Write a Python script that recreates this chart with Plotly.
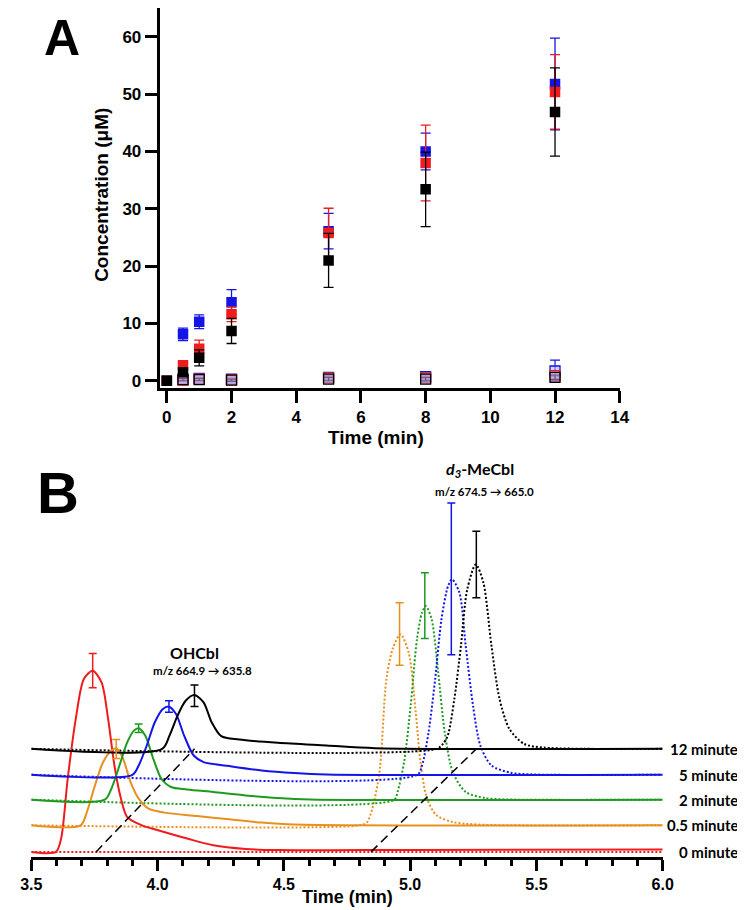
import plotly.graph_objects as go

W, H = 745, 910

def fx(px):
    return px / W

def fy(py):
    return 1 - py / H

# ---------------- Panel A data ----------------
TIME_A = [0, 0.5, 1, 2, 5, 8, 12]
BLACK_FILLED = [0, 1.5, 4.0, 8.7, 21.0, 33.4, 46.9]
BLACK_FILLED_ERR = [0, 0.5, 1.4, 2.2, 4.7, 6.5, 7.7]
RED_FILLED = [0, 2.7, 5.6, 11.6, 25.8, 38.0, 50.4]
RED_FILLED_ERR = [0, 0.5, 1.5, 1.3, 4.3, 6.6, 6.5]
BLUE_FILLED = [0, 8.1, 10.3, 13.7, 26.1, 40.0, 51.8]
BLUE_FILLED_ERR = [0, 1.1, 1.2, 2.2, 3.1, 3.2, 8.0]

TIME_OPEN = [0.5, 1, 2, 5, 8, 12]
BLACK_OPEN = [0.2, 0.2, 0.1, 0.3, 0.3, 0.6]
BLACK_OPEN_ERR = [0.2, 0.2, 0.2, 0.3, 0.3, 0.4]
RED_OPEN = [0.1, 0.3, 0.2, 0.5, 0.5, 0.9]
RED_OPEN_ERR = [0.2, 0.2, 0.2, 0.3, 0.3, 0.5]
BLUE_OPEN = [0.3, 0.4, 0.3, 0.6, 0.7, 1.7]
BLUE_OPEN_ERR = [0.2, 0.2, 0.2, 0.3, 0.3, 1.9]

# ---------------- Panel B data ----------------
# Solid traces: OHCbl channel (time, height above own baseline)
RED_SOLID_T = [3.5, 3.597, 3.618, 3.644, 3.676, 3.708, 3.743, 3.778, 3.804, 3.829, 3.855, 3.880, 3.938, 4.002, 4.117, 4.220, 4.348, 4.476, 5.0, 6.0]
RED_SOLID_H = [0, 0, 13.4, 73.4, 133.4, 173.4, 181.7, 170, 133.4, 86.7, 53.4, 35, 26.7, 21.7, 13.4, 6.7, 3.0, 1.8, 2.0, 2.5]
ORANGE_SOLID_T = [3.5, 3.695, 3.720, 3.752, 3.784, 3.817, 3.836, 3.861, 3.893, 3.925, 3.964, 4.028, 4.156, 4.284, 4.412, 4.541, 6.0]
ORANGE_SOLID_H = [0, 0, 13.3, 40, 63.3, 75, 77.3, 68.3, 43.3, 26.7, 16.7, 12.7, 9.3, 6, 2.7, 0.7, 0]
GREEN_SOLID_T = [3.5, 3.791, 3.817, 3.849, 3.880, 3.906, 3.925, 3.951, 3.983, 4.015, 4.053, 4.117, 4.220, 4.348, 4.476, 4.605, 6.0]
GREEN_SOLID_H = [0, 0, 11, 34.3, 57.7, 69.3, 71.7, 64.3, 41, 21, 12.7, 10.3, 7.7, 4.3, 1.7, 0.3, 0]
BLUE_SOLID_T = [3.5, 3.900, 3.925, 3.957, 3.989, 4.021, 4.045, 4.073, 4.105, 4.143, 4.182, 4.284, 4.412, 4.541, 4.669, 6.0]
BLUE_SOLID_H = [0, 0, 9.3, 29.3, 52.7, 66, 68.3, 61, 39.3, 19.3, 12.7, 8.7, 4.3, 1.7, 0.3, 0]
BLACK_SOLID_T = [3.5, 4.018, 4.047, 4.079, 4.111, 4.146, 4.182, 4.214, 4.252, 4.323, 4.476, 4.669, 4.861, 6.0]
BLACK_SOLID_H = [0, 0, 13.3, 33.3, 48.3, 54, 46.7, 26.7, 12.7, 9.3, 6, 3.3, 0.7, 0]

# Dotted traces: d3-MeCbl channel
RED_DOT_T = [3.5, 6.0]
RED_DOT_H = [0, 0]
ORANGE_DOT_T = [3.5, 4.80, 4.829, 4.875, 4.906, 4.932, 4.962, 4.994, 5.022, 5.041, 5.067, 5.105, 5.169, 5.272, 6.0]
ORANGE_DOT_H = [0, 0, 3, 46.7, 146.7, 178, 191.7, 173.3, 113.3, 63.3, 26.7, 10, 3.3, 0.7, 0]
GREEN_DOT_T = [3.5, 4.937, 4.950, 4.976, 5.002, 5.027, 5.047, 5.062, 5.085, 5.111, 5.137, 5.169, 5.220, 5.297, 5.374, 6.0]
GREEN_DOT_H = [0, 0, 7.7, 37.7, 94.3, 161, 187.7, 194.3, 181, 127.7, 67.7, 27.7, 7.7, 1.7, 0.3, 0]
BLUE_DOT_T = [3.5, 5.028, 5.047, 5.073, 5.099, 5.124, 5.150, 5.166, 5.195, 5.220, 5.249, 5.278, 5.322, 5.399, 5.489, 6.0]
BLUE_DOT_H = [0, 0, 9.3, 42.7, 96, 156, 189.3, 196, 182.7, 129.3, 69.3, 29.3, 9.3, 2, 0.3, 0]
BLACK_DOT_T = [3.5, 5.105, 5.130, 5.149, 5.175, 5.201, 5.226, 5.260, 5.290, 5.322, 5.354, 5.393, 5.451, 5.528, 6.0]
BLACK_DOT_H = [0, 0, 5, 13.3, 50, 103.3, 160, 185, 166.7, 103.3, 50, 20, 5, 1.3, 0]

# Error bars at peak apex (time, height, +/- error)
OH_ERR_T = [3.743, 3.836, 3.925, 4.045, 4.146]
OH_ERR_H = [181.8, 76.5, 71.6, 68.5, 53.3]
OH_ERR_E = [17.2, 9.5, 4.3, 5.8, 10.7]
ME_ERR_T = [4.958, 5.058, 5.163, 5.262]
ME_ERR_H = [192, 194.6, 196.5, 185]
ME_ERR_E = [31.3, 33, 76.2, 33.3]

# Baseline offsets of each trace (same units as heights)
SAMPLES = ["0 minute", "0.5 minute", "2 minute", "5 minute", "12 minute"]
OFFSETS = [0, 26.7, 52.4, 77.4, 103.4]

# Dashed guide lines (time, offset-level)
DASH1_T = [3.756, 4.146]
DASH1_Y = [0, 103.4]
DASH2_T = [4.845, 5.262]
DASH2_Y = [0, 103.4]

C_RED = "#ee1c1c"
C_ORANGE = "#e8901e"
C_GREEN = "#1e9a1e"
C_BLUE = "#1414e6"
C_BLACK = "#000000"

fig = go.Figure()

# ---------- Panel A traces ----------
def open_trace(y, err, col):
    return go.Scatter(
        x=TIME_OPEN, y=y, mode="markers", xaxis="x", yaxis="y",
        marker=dict(symbol="square", size=10, color="rgba(190,170,225,0.55)",
                    line=dict(color=col, width=1.3)),
        error_y=dict(type="data", array=err, color=col, thickness=1.2, width=5),
        showlegend=False, hoverinfo="skip")

fig.add_trace(open_trace(BLUE_OPEN, BLUE_OPEN_ERR, C_BLUE))
fig.add_trace(open_trace(RED_OPEN, RED_OPEN_ERR, C_RED))
fig.add_trace(open_trace(BLACK_OPEN, BLACK_OPEN_ERR, C_BLACK))

def filled_trace(y, err, col):
    return go.Scatter(
        x=TIME_A, y=y, mode="markers", xaxis="x", yaxis="y",
        marker=dict(symbol="square", size=10.5, color=col, line=dict(width=0)),
        error_y=dict(type="data", array=err, color=col, thickness=1.3, width=5),
        showlegend=False, hoverinfo="skip")

fig.add_trace(filled_trace(BLUE_FILLED, BLUE_FILLED_ERR, C_BLUE))
fig.add_trace(filled_trace(RED_FILLED, RED_FILLED_ERR, C_RED))
fig.add_trace(filled_trace(BLACK_FILLED, BLACK_FILLED_ERR, C_BLACK))

# ---------- Panel B traces ----------
dot_sets = [(RED_DOT_T, RED_DOT_H, C_RED), (ORANGE_DOT_T, ORANGE_DOT_H, C_ORANGE),
            (GREEN_DOT_T, GREEN_DOT_H, C_GREEN), (BLUE_DOT_T, BLUE_DOT_H, C_BLUE),
            (BLACK_DOT_T, BLACK_DOT_H, C_BLACK)]
solid_sets = [(RED_SOLID_T, RED_SOLID_H, C_RED), (ORANGE_SOLID_T, ORANGE_SOLID_H, C_ORANGE),
              (GREEN_SOLID_T, GREEN_SOLID_H, C_GREEN), (BLUE_SOLID_T, BLUE_SOLID_H, C_BLUE),
              (BLACK_SOLID_T, BLACK_SOLID_H, C_BLACK)]

for (t, h, c), off in zip(dot_sets, OFFSETS):
    fig.add_trace(go.Scatter(
        x=t, y=[v + off for v in h], mode="lines", xaxis="x2", yaxis="y2",
        line=dict(color=c, width=2, dash="2px,2px", shape="spline", smoothing=0.8),
        showlegend=False, hoverinfo="skip"))

for (t, h, c), off in zip(solid_sets, OFFSETS):
    fig.add_trace(go.Scatter(
        x=t, y=[v + off for v in h], mode="lines", xaxis="x2", yaxis="y2",
        line=dict(color=c, width=2, shape="spline", smoothing=0.8),
        showlegend=False, hoverinfo="skip"))

for tl, yl in [(DASH1_T, DASH1_Y), (DASH2_T, DASH2_Y)]:
    fig.add_trace(go.Scatter(
        x=tl, y=yl, mode="lines", xaxis="x2", yaxis="y2",
        line=dict(color="black", width=1.5, dash="9px,5px"),
        showlegend=False, hoverinfo="skip"))

oh_cols = [C_RED, C_ORANGE, C_GREEN, C_BLUE, C_BLACK]
for t, h, e, c, off in zip(OH_ERR_T, OH_ERR_H, OH_ERR_E, oh_cols, OFFSETS):
    fig.add_trace(go.Scatter(
        x=[t], y=[h + off], mode="markers", xaxis="x2", yaxis="y2",
        marker=dict(size=1, color="rgba(0,0,0,0)"),
        error_y=dict(type="data", array=[e], color=c, thickness=1.5, width=4),
        showlegend=False, hoverinfo="skip"))

me_cols = [C_ORANGE, C_GREEN, C_BLUE, C_BLACK]
for t, h, e, c, off in zip(ME_ERR_T, ME_ERR_H, ME_ERR_E, me_cols, OFFSETS[1:]):
    fig.add_trace(go.Scatter(
        x=[t], y=[h + off], mode="markers", xaxis="x2", yaxis="y2",
        marker=dict(size=1, color="rgba(0,0,0,0)"),
        error_y=dict(type="data", array=[e], color=c, thickness=1.5, width=4),
        showlegend=False, hoverinfo="skip"))

ARIAL = "Liberation Sans, Arial, sans-serif"
CAL = "Lato, Open Sans, sans-serif"

annotations = [
    dict(text="<b>A</b>", x=fx(44), y=fy(30), font=dict(family=ARIAL, size=50, color="black")),
    dict(text="<b>B</b>", x=fx(40), y=fy(486), font=dict(family=ARIAL, size=58, color="black")),
    dict(text="<b>Concentration (μM)</b>", x=fx(85), y=fy(187), textangle=-90,
         font=dict(family=ARIAL, size=19, color="black")),
    dict(text="<b>Time (min)</b>", x=fx(368), y=fy(431), font=dict(family=ARIAL, size=19, color="black")),
    dict(text="<b>OHCbl</b>", x=fx(181), y=fy(647), font=dict(family=CAL, size=16, color="black")),
    dict(text="<b>m/z 664.9 → 635.8</b>", x=fx(189), y=fy(665), font=dict(family=CAL, size=11.5, color="black")),
    dict(text="<b>m/z 674.5 → 665.0</b>", x=fx(480), y=fy(485), font=dict(family=CAL, size=11.5, color="black")),
]
for a in annotations:
    a.update(xref="paper", yref="paper", showarrow=False, xanchor="center", yanchor="middle")

annotations.append(dict(text="<b>Time (min)</b>", xref="paper", yref="paper",
                        x=fx(338), y=fy(903), xanchor="center", yanchor="bottom", showarrow=False,
                        borderpad=0, font=dict(family=ARIAL, size=18, color="black")))
annotations.append(dict(text="<b><i>d</i><sub><i>3</i></sub>-MeCbl</b>", xref="paper", yref="paper",
                        x=fx(475), y=fy(476), xanchor="center", yanchor="bottom", showarrow=False,
                        font=dict(family=CAL, size=16, color="black")))

for s, off in zip(SAMPLES, OFFSETS):
    annotations.append(dict(text="<b>" + s + "</b>", xref="paper", yref="y2", x=fx(743), y=off,
                            xanchor="right", yanchor="middle", showarrow=False,
                            font=dict(family=CAL, size=15, color="black")))

B_BOTTOM_PX = 851.7
B_TOP_PX = 450
B_BASE0_PX = 846.7

fig.update_layout(
    width=W, height=H,
    margin=dict(l=0, r=0, t=0, b=0),
    paper_bgcolor="white", plot_bgcolor="white",
    showlegend=False,
    annotations=annotations,
    xaxis=dict(domain=[fx(145), fx(619)], range=[-0.22, 14], anchor="y",
               tickvals=[0, 2, 4, 6, 8, 10, 12, 14], ticks="outside", ticklen=12, tickwidth=3,
               tickcolor="black", showline=True, linewidth=3, linecolor="black",
               showgrid=False, zeroline=False,
               tickfont=dict(family=ARIAL, size=17, color="black", weight="bold")),
    yaxis=dict(domain=[fy(381), 1.0], range=[-1.22, 374 / 5.75], anchor="x",
               tickvals=[0, 10, 20, 30, 40, 50, 60], ticks="outside", ticklen=12, tickwidth=3,
               tickcolor="black", showline=True, linewidth=3, linecolor="black",
               showgrid=False, zeroline=False,
               tickfont=dict(family=ARIAL, size=17, color="black", weight="bold")),
    xaxis2=dict(domain=[fx(12.7), fx(663.3)], range=[3.5, 6.0], anchor="y2",
                tickvals=[3.5, 4.0, 4.5, 5.0, 5.5, 6.0], ticktext=["3.5", "4.0", "4.5", "5.0", "5.5", "6.0"],
                ticks="outside", ticklen=11, tickwidth=3, tickcolor="black",
                minor=dict(dtick=0.1, ticks="outside", ticklen=6, tickwidth=3, tickcolor="black"),
                showline=True, linewidth=3, linecolor="black",
                showgrid=False, zeroline=False,
                tickfont=dict(family=ARIAL, size=16, color="black", weight="bold")),
    yaxis2=dict(domain=[fy(B_BOTTOM_PX), fy(B_TOP_PX)],
                range=[B_BASE0_PX - B_BOTTOM_PX, B_BASE0_PX - B_TOP_PX], anchor="x2",
                visible=False, showgrid=False, zeroline=False),
)

fig.write_html("out.html")
